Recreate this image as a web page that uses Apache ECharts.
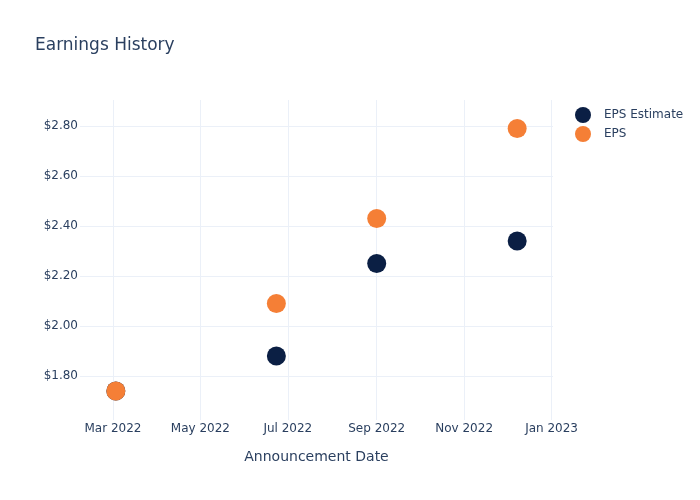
<!DOCTYPE html>
<html>
<head>
<meta charset="utf-8">
<script src="https://cdn.jsdelivr.net/npm/echarts@6/dist/echarts.min.js"></script>
<style>
html,body{margin:0;padding:0;background:#fff;}
#chart{width:700px;height:500px;}
</style>
</head>
<body>
<div id="chart"></div>
<script>
// Data
const announcementDates = ['2022-03-03', '2022-06-23', '2022-09-01', '2022-12-08'];
const epsEstimate = [1.74, 1.88, 2.25, 2.34];
const epsActual = [1.74, 2.09, 2.43, 2.79];
const xTickDates = ['2022-03-01', '2022-05-01', '2022-07-01', '2022-09-01', '2022-11-01', '2023-01-01'];
const yTickValues = [1.8, 2.0, 2.2, 2.4, 2.6, 2.8];
const monthNames = ['Jan','Feb','Mar','Apr','May','Jun','Jul','Aug','Sep','Oct','Nov','Dec'];

const toTs = s => { const p = s.split('-').map(Number); return Date.UTC(p[0], p[1]-1, p[2]); };
const xTicks = xTickDates.map(toTs);

const font = 'DejaVu Sans, Open Sans, sans-serif';
const textColor = '#2a3f5f';
const gridColor = '#ebf0f8';

const chart = echarts.init(document.getElementById('chart'), null, {renderer: 'canvas'});
chart.setOption({
  backgroundColor: '#ffffff',
  animation: false,
  title: {
    text: 'Earnings History',
    left: 35, top: 37, padding: 0,
    textStyle: {fontFamily: font, fontSize: 17, fontWeight: 'normal', color: textColor}
  },
  legend: {
    orient: 'vertical',
    left: 570, top: 102,
    itemWidth: 16, itemHeight: 16, itemGap: 3,
    icon: 'circle',
    textStyle: {fontFamily: font, fontSize: 12, color: textColor, padding: [0,0,0,8]},
    data: ['EPS Estimate', 'EPS']
  },
  grid: {left: 80, right: 147, top: 100, bottom: 80, containLabel: false},
  xAxis: {
    type: 'value',
    min: toTs('2022-02-06'),
    max: toTs('2023-01-02'),
    name: 'Announcement Date',
    nameLocation: 'middle',
    nameGap: 30,
    nameTextStyle: {fontFamily: font, fontSize: 14, color: textColor},
    axisLine: {show: false},
    axisTick: {show: false, customValues: xTicks},
    axisLabel: {
      customValues: xTicks,
      fontFamily: font, fontSize: 12, color: textColor, margin: 3,
      formatter: v => { const d = new Date(v); return monthNames[d.getUTCMonth()] + ' ' + d.getUTCFullYear(); }
    },
    splitLine: {show: true, lineStyle: {color: gridColor, width: 1}}
  },
  yAxis: {
    type: 'value',
    min: 1.624,
    max: 2.904,
    axisLine: {show: false},
    axisTick: {show: false, customValues: yTickValues},
    axisLabel: {
      customValues: yTickValues,
      fontFamily: font, fontSize: 12, color: textColor, margin: 2,
      formatter: v => '$' + v.toFixed(2)
    },
    splitLine: {show: true, lineStyle: {color: gridColor, width: 1}}
  },
  series: [
    {
      name: 'EPS Estimate',
      type: 'scatter',
      symbol: 'circle',
      symbolSize: 19,
      itemStyle: {color: '#0b1f44', opacity: 1},
      emphasis: {disabled: true},
      data: announcementDates.map((d, i) => [toTs(d), epsEstimate[i]])
    },
    {
      name: 'EPS',
      type: 'scatter',
      symbol: 'circle',
      symbolSize: 19,
      itemStyle: {color: '#f57f36', opacity: 1},
      emphasis: {disabled: true},
      data: announcementDates.map((d, i) => [toTs(d), epsActual[i]])
    }
  ]
});
</script>
</body>
</html>
